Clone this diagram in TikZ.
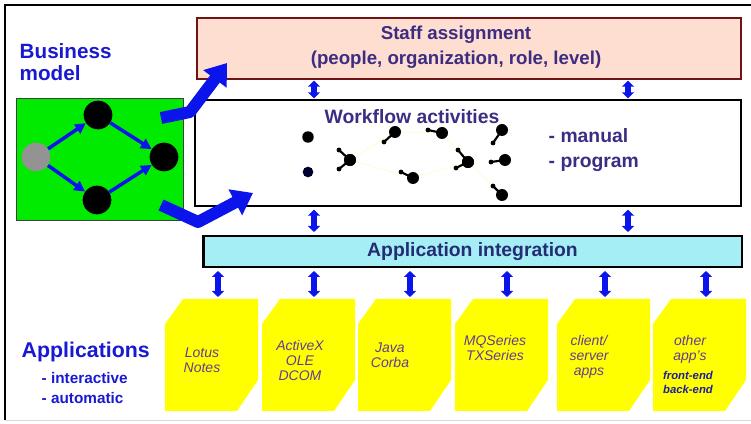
\documentclass[tikz,border=0pt]{standalone}
\usepackage{fontspec}
\setmainfont{Liberation Sans}
\usetikzlibrary{arrows.meta,positioning}

\definecolor{arrowblue}{RGB}{10,20,235}
\definecolor{labelblue}{RGB}{25,25,210}
\definecolor{boxtext}{RGB}{60,45,130}
\definecolor{inttext}{RGB}{35,45,115}
\definecolor{staffpink}{RGB}{253,222,208}
\definecolor{staffred}{RGB}{110,20,20}
\definecolor{intcyan}{RGB}{165,238,246}
\definecolor{modelgreen}{RGB}{0,235,0}
\definecolor{appyellow}{RGB}{255,255,0}
\definecolor{apptext}{RGB}{100,60,150}
\definecolor{endtext}{RGB}{30,30,160}

\tikzset{
  dblarrow/.style={draw=arrowblue, line width=4.2pt,
    {Triangle[width=9pt,length=4.5pt]}-{Triangle[width=9pt,length=4.5pt]}},
  bigarrow/.style={draw=arrowblue, line width=9pt, line join=round,
    -{Triangle[width=21pt,length=15pt]}},
  flowarrow/.style={draw=arrowblue, line width=2.6pt,
    -{Triangle[width=8pt,length=8pt]}},
  state/.style={circle, fill=black, minimum size=21.5pt, inner sep=0pt},
  layer/.style={draw, line width=1.5pt, inner sep=0pt},
  layertxt/.style={font=\fontsize{14.5}{18.75}\selectfont\bfseries, text=boxtext, align=center},
  sidetxt/.style={font=\bfseries, text=labelblue, align=left, anchor=west},
  apptxt/.style={font=\fontsize{10.5}{11.3}\selectfont\itshape, text=apptext, align=center, anchor=north},
}

\begin{document}
\begin{tikzpicture}[x=0.75pt, y=-0.75pt]
  \useasboundingbox (0,0) rectangle (751,424);

  % frame
  \draw[line width=2pt] (751,5) -- (5,5) -- (5,420);
  \draw[black!15] (5,420) -- (751,420);

  % business model
  \node[sidetxt, font=\fontsize{15.5}{16.5}\selectfont\bfseries] (bmlabel) at (15,62) {Business\\model};
  \node[draw=black!75, fill=modelgreen, minimum width=125.25pt, minimum height=91.5pt] (bm) at (99.5,159) {};
  \node[state, fill=gray!85] (start) at (36,157) {};
  \node[state] (upper) at (98,115) {};
  \node[state] (lower) at (97,200) {};
  \node[state] (join) at (164,157) {};
  \draw[flowarrow] (start) -- (upper);
  \draw[flowarrow] (start) -- (lower);
  \draw[flowarrow] (upper) -- (join);
  \draw[flowarrow] (lower) -- (join);

  % layers
  \node[layer, draw=staffred, fill=staffpink, minimum width=408pt, minimum height=45.75pt] (staff) at (469,48.5) {};
  \node[layertxt, font=\fontsize{14}{18.75}\selectfont\bfseries] (stafftxt) at (456,47.5) {Staff assignment\\(people, organization, role, level)};
  \node[layer, fill=white, minimum width=409.5pt, minimum height=79.5pt] (wf) at (468,153) {};
  \node[layertxt] (wftxt) at (412,117) {Workflow activities};
  \node[layertxt, align=left, anchor=west] (kinds) at (544,150.5) {- manual\\- program};
  \node[layer, line width=2pt, fill=intcyan, minimum width=404pt, minimum height=23.25pt,
        font=\fontsize{14.5}{17}\selectfont\bfseries, text=inttext] (appint) at (472.5,251.5) {Application integration};

  % activities
  \draw[yellow!12, line width=1pt] (350,160) -- (413,178) -- (468,162) -- (502,195);
  \draw[yellow!12, line width=1pt] (350,160) -- (395,132) -- (442,133) -- (468,162);
  \fill (308,137) circle (4.3pt);
  \fill[black!60!blue!45!black] (308,172) circle (4pt);
  \foreach \x/\y/\tx/\ty in {350/160/339/150, 350/160/339/169, 395/132/384/142, 442/133/428/130,
      502/130/493/143, 413/178/401/172, 468/162/458/150, 468/162/456/168, 505/160/491/162, 502/195/493/186}{
    \fill (\x,\y) circle (4.5pt);
    \draw[line width=1.6pt] (\x,\y) -- (\tx,\ty);
    \fill (\tx,\ty) circle (1.8pt);
  }

  % model into workflow
  \coordinate (bmout1) at (161,118);
  \coordinate (bmout2) at (161,205);
  \draw[bigarrow] (bmout1) -- (190,112) -- (227,63);
  \draw[bigarrow] (bmout2) -- (198,222) -- (253,193);

  % links between layers
  \coordinate (lnk1) at (314,0);
  \coordinate (lnk2) at (628,0);
  \foreach \c in {lnk1,lnk2}{
    \draw[dblarrow] ([yshift=-0.5pt]staff.south -| \c) -- ([yshift=0.5pt]wf.north -| \c);
    \draw[dblarrow] ([yshift=-2pt]wf.south -| \c) -- ([yshift=2pt]appint.north -| \c);
  }

  % applications
  \node[sidetxt, font=\fontsize{16}{18}\selectfont\bfseries] (applabel) at (17,352) {Applications};
  \node[sidetxt, font=\fontsize{11.5}{15}\selectfont\bfseries] (appkinds) at (37,388) {- interactive\\- automatic};
  \foreach \i/\L/\ax in {1/165/218, 2/262/314, 3/358/410, 4/455/507, 5/557/605, 6/653/706}{
    \fill[appyellow] (\L+18,299) -- (\L+93,299) -- (\L+93,380) -- (\L+72,411) -- (\L,411) -- (\L,324) -- cycle;
    \coordinate (top\i) at (\ax,297);
    \draw[dblarrow] ([yshift=-2pt]appint.south -| top\i) -- (top\i);
  }
  \node[apptxt] (app1) at (202,343) {Lotus\\Notes};
  \node[apptxt] (app2) at (300,336) {ActiveX\\OLE\\DCOM};
  \node[apptxt] (app3) at (390,338) {Java\\Corba};
  \node[apptxt] (app4) at (495,331) {MQSeries\\TXSeries};
  \node[apptxt] (app5) at (589,331) {client/\\server\\apps};
  \node[apptxt] (app6) at (690,331) {other\\app's};
  \node[apptxt, font=\fontsize{8.5}{10}\selectfont\bfseries\itshape, text=endtext] (app6ends) at (688,367) {front-end\\back-end};
\end{tikzpicture}
\end{document}
